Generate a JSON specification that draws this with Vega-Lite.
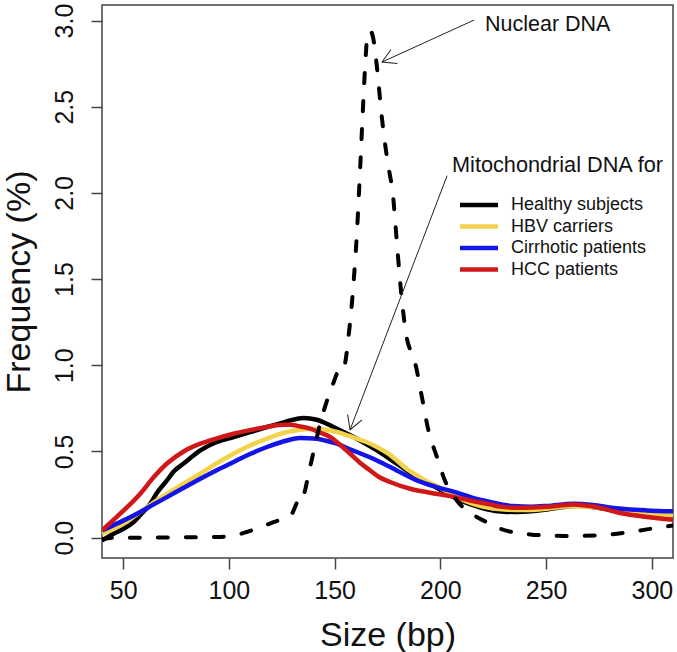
{
  "$schema": "https://vega.github.io/schema/vega-lite/v6.json",
  "width": 571,
  "height": 553,
  "autosize": {"type": "none"},
  "padding": {"left": 102, "top": 5, "right": 4, "bottom": 94},
  "background": "white",
  "config": {
    "view": {"stroke": "#444444", "strokeWidth": 1.5},
    "font": "Liberation Sans",
    "axis": {"grid": false, "domain": false, "tickColor": "#444444", "tickWidth": 1.5, "tickSize": 11, "labelFont": "Liberation Sans", "labelFontSize": 25, "labelColor": "#111111", "titleFont": "Liberation Sans", "titleFontSize": 34, "titleFontWeight": "normal", "titleColor": "#111111", "labelFlush": false, "labelOverlap": false}
  },
  "datasets": {
    "mito": [
      {"series": "Healthy subjects", "size": 40, "freq": -0.016},
      {"series": "Healthy subjects", "size": 45.5, "freq": 0.023},
      {"series": "Healthy subjects", "size": 50, "freq": 0.05},
      {"series": "Healthy subjects", "size": 54.9, "freq": 0.09},
      {"series": "Healthy subjects", "size": 58, "freq": 0.13},
      {"series": "Healthy subjects", "size": 62.8, "freq": 0.197},
      {"series": "Healthy subjects", "size": 66, "freq": 0.26},
      {"series": "Healthy subjects", "size": 70.7, "freq": 0.332},
      {"series": "Healthy subjects", "size": 74, "freq": 0.385},
      {"series": "Healthy subjects", "size": 78.6, "freq": 0.43},
      {"series": "Healthy subjects", "size": 86.5, "freq": 0.506},
      {"series": "Healthy subjects", "size": 94.3, "freq": 0.555},
      {"series": "Healthy subjects", "size": 102.2, "freq": 0.584},
      {"series": "Healthy subjects", "size": 110, "freq": 0.612},
      {"series": "Healthy subjects", "size": 118, "freq": 0.642},
      {"series": "Healthy subjects", "size": 125, "freq": 0.665},
      {"series": "Healthy subjects", "size": 129, "freq": 0.68},
      {"series": "Healthy subjects", "size": 135.3, "freq": 0.694},
      {"series": "Healthy subjects", "size": 141.6, "freq": 0.684},
      {"series": "Healthy subjects", "size": 146, "freq": 0.662},
      {"series": "Healthy subjects", "size": 151.1, "freq": 0.632},
      {"series": "Healthy subjects", "size": 160.5, "freq": 0.574},
      {"series": "Healthy subjects", "size": 170, "freq": 0.506},
      {"series": "Healthy subjects", "size": 179.4, "freq": 0.429},
      {"series": "Healthy subjects", "size": 188.9, "freq": 0.352},
      {"series": "Healthy subjects", "size": 198.3, "freq": 0.29},
      {"series": "Healthy subjects", "size": 207.8, "freq": 0.225},
      {"series": "Healthy subjects", "size": 215, "freq": 0.19},
      {"series": "Healthy subjects", "size": 222, "freq": 0.165},
      {"series": "Healthy subjects", "size": 230, "freq": 0.151},
      {"series": "Healthy subjects", "size": 236, "freq": 0.149},
      {"series": "Healthy subjects", "size": 243, "freq": 0.153},
      {"series": "Healthy subjects", "size": 250.3, "freq": 0.163},
      {"series": "Healthy subjects", "size": 258, "freq": 0.178},
      {"series": "Healthy subjects", "size": 264.5, "freq": 0.185},
      {"series": "Healthy subjects", "size": 272, "freq": 0.178},
      {"series": "Healthy subjects", "size": 281.8, "freq": 0.158},
      {"series": "Healthy subjects", "size": 290, "freq": 0.137},
      {"series": "Healthy subjects", "size": 297.6, "freq": 0.122},
      {"series": "Healthy subjects", "size": 310, "freq": 0.11},
      {"series": "HBV carriers", "size": 40, "freq": 0.023},
      {"series": "HBV carriers", "size": 48.6, "freq": 0.071},
      {"series": "HBV carriers", "size": 58.1, "freq": 0.149},
      {"series": "HBV carriers", "size": 64, "freq": 0.2},
      {"series": "HBV carriers", "size": 70.7, "freq": 0.255},
      {"series": "HBV carriers", "size": 78, "freq": 0.31},
      {"series": "HBV carriers", "size": 86.5, "freq": 0.371},
      {"series": "HBV carriers", "size": 94, "freq": 0.43},
      {"series": "HBV carriers", "size": 102.2, "freq": 0.487},
      {"series": "HBV carriers", "size": 110, "freq": 0.535},
      {"series": "HBV carriers", "size": 118, "freq": 0.574},
      {"series": "HBV carriers", "size": 125, "freq": 0.605},
      {"series": "HBV carriers", "size": 133.7, "freq": 0.626},
      {"series": "HBV carriers", "size": 141.6, "freq": 0.632},
      {"series": "HBV carriers", "size": 146, "freq": 0.626},
      {"series": "HBV carriers", "size": 151.1, "freq": 0.613},
      {"series": "HBV carriers", "size": 155.7, "freq": 0.595},
      {"series": "HBV carriers", "size": 160.5, "freq": 0.574},
      {"series": "HBV carriers", "size": 165, "freq": 0.555},
      {"series": "HBV carriers", "size": 170, "freq": 0.526},
      {"series": "HBV carriers", "size": 175, "freq": 0.49},
      {"series": "HBV carriers", "size": 179.4, "freq": 0.448},
      {"series": "HBV carriers", "size": 184, "freq": 0.4},
      {"series": "HBV carriers", "size": 188.9, "freq": 0.361},
      {"series": "HBV carriers", "size": 193, "freq": 0.33},
      {"series": "HBV carriers", "size": 198.3, "freq": 0.3},
      {"series": "HBV carriers", "size": 205, "freq": 0.255},
      {"series": "HBV carriers", "size": 212, "freq": 0.212},
      {"series": "HBV carriers", "size": 220, "freq": 0.18},
      {"series": "HBV carriers", "size": 230, "freq": 0.163},
      {"series": "HBV carriers", "size": 240, "freq": 0.16},
      {"series": "HBV carriers", "size": 250, "freq": 0.168},
      {"series": "HBV carriers", "size": 262, "freq": 0.182},
      {"series": "HBV carriers", "size": 272, "freq": 0.178},
      {"series": "HBV carriers", "size": 282, "freq": 0.162},
      {"series": "HBV carriers", "size": 295, "freq": 0.145},
      {"series": "HBV carriers", "size": 310, "freq": 0.129},
      {"series": "Cirrhotic patients", "size": 40, "freq": 0.042},
      {"series": "Cirrhotic patients", "size": 48.6, "freq": 0.09},
      {"series": "Cirrhotic patients", "size": 58.1, "freq": 0.149},
      {"series": "Cirrhotic patients", "size": 64, "freq": 0.19},
      {"series": "Cirrhotic patients", "size": 70.7, "freq": 0.235},
      {"series": "Cirrhotic patients", "size": 78, "freq": 0.285},
      {"series": "Cirrhotic patients", "size": 86.5, "freq": 0.342},
      {"series": "Cirrhotic patients", "size": 94, "freq": 0.39},
      {"series": "Cirrhotic patients", "size": 102.2, "freq": 0.439},
      {"series": "Cirrhotic patients", "size": 110, "freq": 0.485},
      {"series": "Cirrhotic patients", "size": 118, "freq": 0.526},
      {"series": "Cirrhotic patients", "size": 125, "freq": 0.555},
      {"series": "Cirrhotic patients", "size": 133.7, "freq": 0.578},
      {"series": "Cirrhotic patients", "size": 141.6, "freq": 0.574},
      {"series": "Cirrhotic patients", "size": 146, "freq": 0.562},
      {"series": "Cirrhotic patients", "size": 151.1, "freq": 0.545},
      {"series": "Cirrhotic patients", "size": 155.8, "freq": 0.52},
      {"series": "Cirrhotic patients", "size": 160.5, "freq": 0.497},
      {"series": "Cirrhotic patients", "size": 170, "freq": 0.448},
      {"series": "Cirrhotic patients", "size": 179.4, "freq": 0.39},
      {"series": "Cirrhotic patients", "size": 188.9, "freq": 0.332},
      {"series": "Cirrhotic patients", "size": 198.3, "freq": 0.293},
      {"series": "Cirrhotic patients", "size": 207.8, "freq": 0.261},
      {"series": "Cirrhotic patients", "size": 215, "freq": 0.232},
      {"series": "Cirrhotic patients", "size": 223.5, "freq": 0.207},
      {"series": "Cirrhotic patients", "size": 234.5, "freq": 0.183},
      {"series": "Cirrhotic patients", "size": 243, "freq": 0.18},
      {"series": "Cirrhotic patients", "size": 250.3, "freq": 0.184},
      {"series": "Cirrhotic patients", "size": 262.9, "freq": 0.197},
      {"series": "Cirrhotic patients", "size": 272, "freq": 0.19},
      {"series": "Cirrhotic patients", "size": 281.8, "freq": 0.172},
      {"series": "Cirrhotic patients", "size": 297.6, "freq": 0.158},
      {"series": "Cirrhotic patients", "size": 310, "freq": 0.153},
      {"series": "HCC patients", "size": 40, "freq": 0.042},
      {"series": "HCC patients", "size": 48.6, "freq": 0.139},
      {"series": "HCC patients", "size": 58.1, "freq": 0.255},
      {"series": "HCC patients", "size": 64.4, "freq": 0.35},
      {"series": "HCC patients", "size": 70.7, "freq": 0.43},
      {"series": "HCC patients", "size": 78.6, "freq": 0.5},
      {"series": "HCC patients", "size": 86.5, "freq": 0.545},
      {"series": "HCC patients", "size": 94, "freq": 0.575},
      {"series": "HCC patients", "size": 102.2, "freq": 0.603},
      {"series": "HCC patients", "size": 110, "freq": 0.624},
      {"series": "HCC patients", "size": 118, "freq": 0.642},
      {"series": "HCC patients", "size": 125.8, "freq": 0.655},
      {"series": "HCC patients", "size": 129, "freq": 0.655},
      {"series": "HCC patients", "size": 133.7, "freq": 0.645},
      {"series": "HCC patients", "size": 138.4, "freq": 0.632},
      {"series": "HCC patients", "size": 143, "freq": 0.61},
      {"series": "HCC patients", "size": 147.9, "freq": 0.584},
      {"series": "HCC patients", "size": 152, "freq": 0.545},
      {"series": "HCC patients", "size": 157.3, "freq": 0.487},
      {"series": "HCC patients", "size": 162, "freq": 0.435},
      {"series": "HCC patients", "size": 166.8, "freq": 0.39},
      {"series": "HCC patients", "size": 171, "freq": 0.352},
      {"series": "HCC patients", "size": 176.2, "freq": 0.323},
      {"series": "HCC patients", "size": 185.7, "freq": 0.284},
      {"series": "HCC patients", "size": 195.1, "freq": 0.261},
      {"series": "HCC patients", "size": 204.6, "freq": 0.241},
      {"series": "HCC patients", "size": 214, "freq": 0.216},
      {"series": "HCC patients", "size": 223.5, "freq": 0.193},
      {"series": "HCC patients", "size": 228.2, "freq": 0.18},
      {"series": "HCC patients", "size": 237.7, "freq": 0.173},
      {"series": "HCC patients", "size": 250.3, "freq": 0.179},
      {"series": "HCC patients", "size": 262.9, "freq": 0.193},
      {"series": "HCC patients", "size": 273.9, "freq": 0.178},
      {"series": "HCC patients", "size": 285, "freq": 0.143},
      {"series": "HCC patients", "size": 297.6, "freq": 0.12},
      {"series": "HCC patients", "size": 310, "freq": 0.104}
    ],
    "nuclear": [
      {"size": 40, "freq": -0.01},
      {"size": 45, "freq": 0.0},
      {"size": 60, "freq": 0.0},
      {"size": 80, "freq": 0.002},
      {"size": 95, "freq": 0.004},
      {"size": 101.4, "freq": 0.01},
      {"size": 108.5, "freq": 0.033},
      {"size": 114.8, "freq": 0.06},
      {"size": 121.1, "freq": 0.09},
      {"size": 126, "freq": 0.11},
      {"size": 129, "freq": 0.125},
      {"size": 132, "freq": 0.2},
      {"size": 134, "freq": 0.27},
      {"size": 135.5, "freq": 0.26},
      {"size": 137, "freq": 0.33},
      {"size": 138.4, "freq": 0.41},
      {"size": 141, "freq": 0.55},
      {"size": 143.1, "freq": 0.66},
      {"size": 146, "freq": 0.78},
      {"size": 149.5, "freq": 0.9},
      {"size": 152, "freq": 0.98},
      {"size": 153.4, "freq": 1.01},
      {"size": 154.5, "freq": 1.0},
      {"size": 156.5, "freq": 1.16},
      {"size": 158.9, "freq": 1.47},
      {"size": 160.5, "freq": 1.76},
      {"size": 162.1, "freq": 2.15},
      {"size": 163.2, "freq": 2.44},
      {"size": 164.4, "freq": 2.73},
      {"size": 165.4, "freq": 2.9},
      {"size": 166.8, "freq": 2.94},
      {"size": 168.2, "freq": 2.9},
      {"size": 170, "freq": 2.73},
      {"size": 172.3, "freq": 2.44},
      {"size": 174.8, "freq": 2.2},
      {"size": 177.8, "freq": 1.96},
      {"size": 179.7, "freq": 1.67},
      {"size": 181.8, "freq": 1.38},
      {"size": 184.1, "freq": 1.16},
      {"size": 186, "freq": 1.08},
      {"size": 188.1, "freq": 1.01},
      {"size": 191.2, "freq": 0.82},
      {"size": 194.4, "freq": 0.62},
      {"size": 198.3, "freq": 0.47},
      {"size": 202.2, "freq": 0.33},
      {"size": 207.8, "freq": 0.216},
      {"size": 212, "freq": 0.16},
      {"size": 217.2, "freq": 0.12},
      {"size": 223.5, "freq": 0.08},
      {"size": 228.2, "freq": 0.052},
      {"size": 235, "freq": 0.03},
      {"size": 242.4, "freq": 0.019},
      {"size": 258.2, "freq": 0.01},
      {"size": 274, "freq": 0.013},
      {"size": 286.5, "freq": 0.027},
      {"size": 297.6, "freq": 0.048},
      {"size": 310, "freq": 0.071}
    ],
    "one": [{}]
  },
  "layer": [
    {
      "data": {"name": "mito"},
      "mark": {"type": "line", "interpolate": "monotone", "strokeWidth": 4.5, "clip": true},
      "encoding": {
        "x": {"field": "size", "type": "quantitative", "scale": {"domain": [40, 310], "nice": false, "zero": false},
              "axis": {"title": "Size (bp)", "values": [50, 100, 150, 200, 250, 300], "labelBaseline": "alphabetic", "labelPadding": 29, "titleBaseline": "alphabetic", "titleY": 87}},
        "y": {"field": "freq", "type": "quantitative", "scale": {"domain": [-0.118, 3.09], "nice": false, "zero": false},
              "axis": {"title": "Frequency (%)", "values": [0, 0.5, 1, 1.5, 2, 2.5, 3], "format": ".1f", "labelAngle": 270, "labelAlign": "center", "labelBaseline": "alphabetic", "labelPadding": 19, "titleAngle": 270, "titleBaseline": "alphabetic", "titleAlign": "center", "titleX": -73, "titleY": 276.5}},
        "color": {"field": "series", "type": "nominal",
                  "scale": {"domain": ["Healthy subjects", "HBV carriers", "Cirrhotic patients", "HCC patients"], "range": ["#000000", "#F2D34B", "#1414E6", "#D01818"]},
                  "legend": {"title": null, "orient": "none", "legendX": 368, "legendY": 191, "symbolType": "M -3.8 0 L 3.8 0", "symbolSize": 100, "symbolStrokeWidth": 4.5, "labelFont": "Liberation Sans", "labelFontSize": 18, "labelColor": "#111111", "labelOffset": 23, "rowPadding": 3.5, "padding": 0}},
        "order": {"field": "series"}
      }
    },
    {
      "data": {"name": "nuclear"},
      "mark": {"type": "line", "interpolate": "monotone", "strokeWidth": 4, "color": "#000000", "strokeDash": [10, 18], "strokeCap": "round", "clip": true},
      "encoding": {
        "x": {"field": "size", "type": "quantitative"},
        "y": {"field": "freq", "type": "quantitative"}
      }
    },
    {
      "data": {"name": "one"},
      "mark": {"type": "rule", "color": "#222222", "strokeWidth": 1},
      "encoding": {
        "x": {"datum": 216, "type": "quantitative"},
        "y": {"datum": 3.003, "type": "quantitative"},
        "x2": {"datum": 172.4},
        "y2": {"datum": 2.759}
      }
    },
    {
      "data": {"name": "one"},
      "mark": {"type": "point", "shape": "M -0.866 -0.5 L 0 0 L -0.866 0.5", "size": 960, "filled": false, "color": "#222222", "strokeWidth": 1, "opacity": 1, "angle": 155.4},
      "encoding": {
        "x": {"datum": 172.4, "type": "quantitative"},
        "y": {"datum": 2.759, "type": "quantitative"}
      }
    },
    {
      "data": {"name": "one"},
      "mark": {"type": "rule", "color": "#222222", "strokeWidth": 1},
      "encoding": {
        "x": {"datum": 203.2, "type": "quantitative"},
        "y": {"datum": 2.1, "type": "quantitative"},
        "x2": {"datum": 157.3},
        "y2": {"datum": 0.626}
      }
    },
    {
      "data": {"name": "one"},
      "mark": {"type": "point", "shape": "M -0.866 -0.5 L 0 0 L -0.866 0.5", "size": 960, "filled": false, "color": "#222222", "strokeWidth": 1, "opacity": 1, "angle": 110.9},
      "encoding": {
        "x": {"datum": 157.3, "type": "quantitative"},
        "y": {"datum": 0.626, "type": "quantitative"}
      }
    },
    {
      "data": {"name": "one"},
      "mark": {"type": "text", "text": "Nuclear DNA", "font": "Liberation Sans", "fontSize": 21.5, "align": "left", "baseline": "middle", "color": "#111111"},
      "encoding": {
        "x": {"datum": 221.1, "type": "quantitative"},
        "y": {"datum": 2.972, "type": "quantitative"}
      }
    },
    {
      "data": {"name": "one"},
      "mark": {"type": "text", "text": "Mitochondrial DNA for", "font": "Liberation Sans", "fontSize": 21.7, "align": "left", "baseline": "middle", "color": "#111111"},
      "encoding": {
        "x": {"datum": 205.5, "type": "quantitative"},
        "y": {"datum": 2.16, "type": "quantitative"}
      }
    }
  ]
}
